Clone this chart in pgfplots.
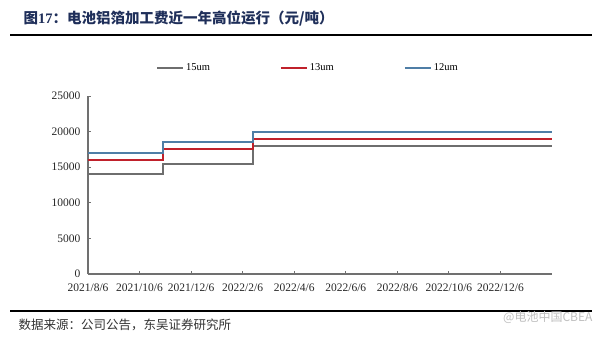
\documentclass[border=0pt]{standalone}
\usepackage{fontspec}
\setmainfont{Liberation Serif}
\newfontfamily\cjk{Noto Sans CJK SC}
\usepackage{pgfplots}
\pgfplotsset{compat=1.18}
\definecolor{c15}{HTML}{6E6E6E}
\definecolor{c13}{HTML}{C0212B}
\definecolor{c12}{HTML}{4F7EA6}
\definecolor{ttl}{HTML}{1F2F5A}
\definecolor{axc}{HTML}{707070}
\begin{document}
\begin{tikzpicture}
\path[use as bounding box] (0pt,0pt) rectangle (600pt,338pt);
\fill[white] (0pt,0pt) rectangle (600pt,338pt);
% title
\node[anchor=west, text=ttl, font=\fontsize{14.5}{15}\selectfont\cjk\bfseries] at (20pt,320pt) {图\textrm{\textbf{17}}：电池铝箔加工费近一年高位运行（元/吨）};
\draw[black, line width=1.2pt] (10pt,303pt) -- (592pt,303pt);
\draw[black, line width=1.2pt] (10pt,27pt) -- (592pt,27pt);
\node[anchor=west, font=\fontsize{12.5}{13}\selectfont\cjk, text=black!80] at (15pt,13pt) {数据来源：公司公告，东吴证券研究所};
\node[anchor=east, font=\fontsize{12}{13}\selectfont\cjk, text=black!25] at (596pt,21pt) {@电池中国CBEA};
\begin{axis}[
  at={(88pt,64pt)}, anchor=south west,
  scale only axis, width=464pt, height=178pt,
  xmin=0, xmax=9, ymin=0, ymax=25000,
  axis lines=left,
  axis line style={axc, line width=1.2pt, -},
  tick style={axc, line width=0.8pt},
  tick align=inside, major tick length=3pt,
  xtick={0,1,2,3,4,5,6,7,8},
  xticklabels={2021/8/6,2021/10/6,2021/12/6,2022/2/6,2022/4/6,2022/6/6,2022/8/6,2022/10/6,2022/12/6},
  ytick={0,5000,10000,15000,20000,25000},
  scaled y ticks=false,
  /pgf/number format/assume math mode=true,
  yticklabel style={/pgf/number format/1000 sep={}, font=\fontsize{11.5}{12}\selectfont, text=black!85, xshift=-4pt},
  xticklabel style={font=\fontsize{11.5}{12}\selectfont, text=black!85, yshift=-6pt},
  legend columns=3,
  legend style={at={(0.474,1.157)}, anchor=center, draw=none, fill=none,
    font=\fontsize{10.5}{11}\selectfont, /tikz/every even column/.append style={column sep=68pt}},
  legend image code/.code={\draw[#1] (0pt,0pt) -- (26pt,0pt);},
  clip=false,
]
\addplot[c15, line width=2pt, const plot] coordinates {(0,14000) (1.46,15500) (3.2,18000) (9,18000)};
\addlegendentry{15um}
\addplot[c13, line width=2pt, const plot] coordinates {(0,16000) (1.46,17500) (3.2,19000) (9,19000)};
\addlegendentry{13um}
\addplot[c12, line width=2pt, const plot] coordinates {(0,17000) (1.46,18500) (3.2,20000) (9,20000)};
\addlegendentry{12um}
\end{axis}
\end{tikzpicture}
\end{document}
